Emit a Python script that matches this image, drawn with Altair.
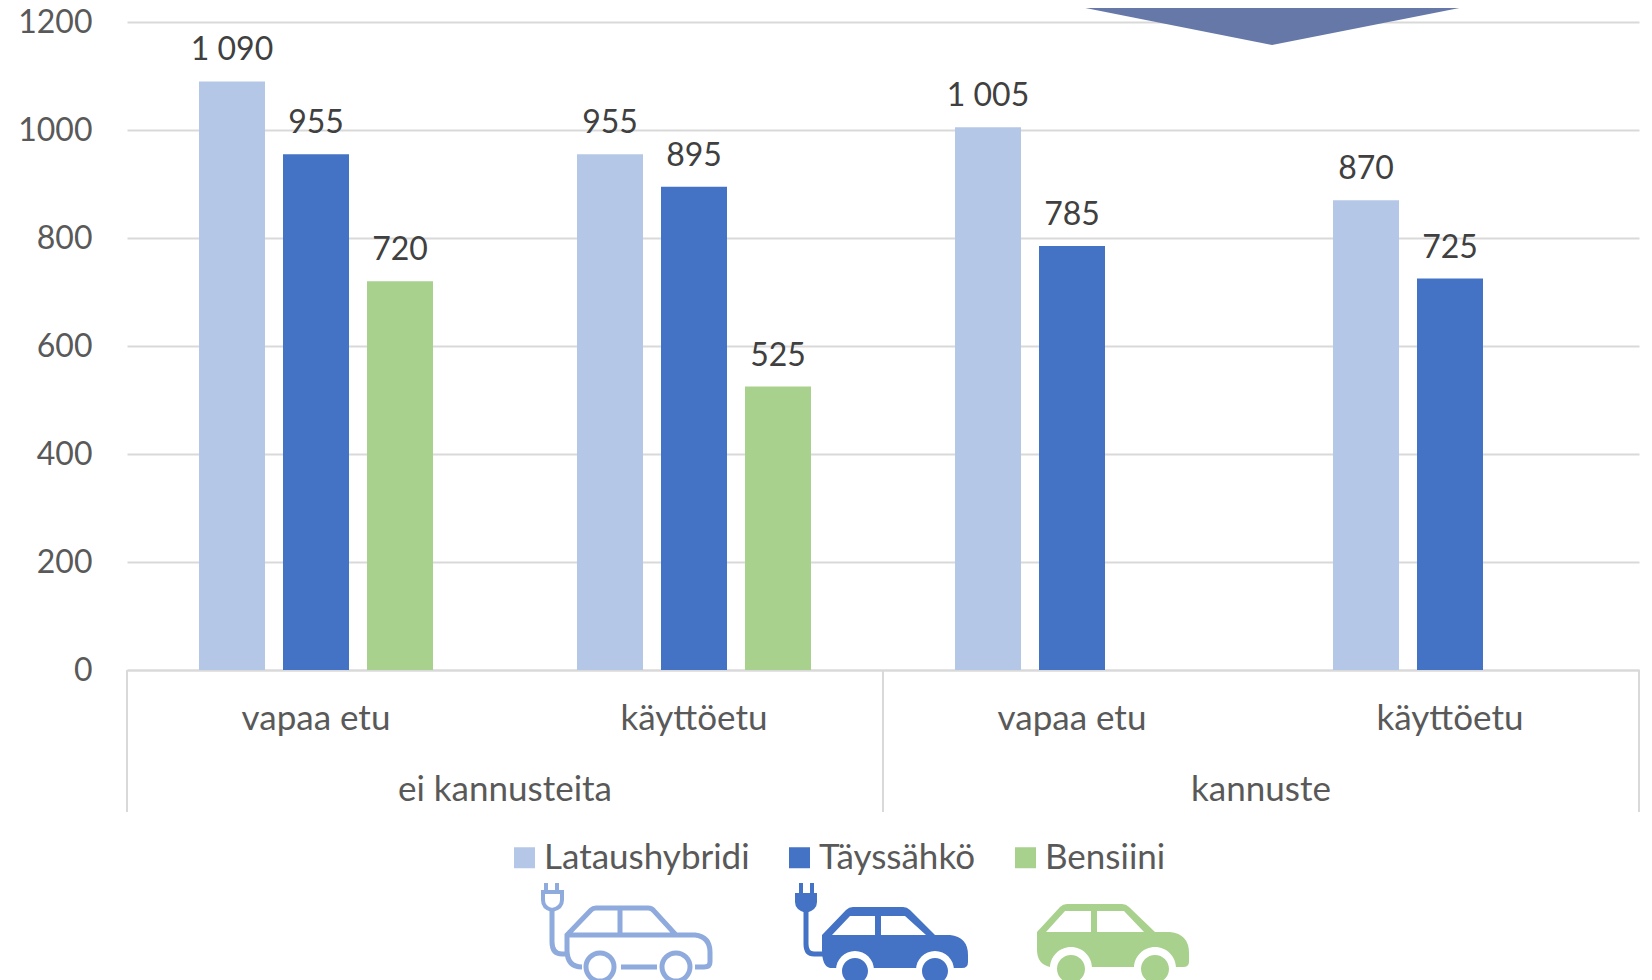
import altair as alt
import pandas as pd

FONT = "Lato"
SIZE = 32
WORD = 35
GRID = "#D9D9D9"
series_names = ["Lataushybridi", "Täyssähkö", "Bensiini"]
colors = ["#B4C7E7", "#4472C4", "#A9D18E"]
positions = ["ei kannusteita|vapaa etu", "ei kannusteita|käyttöetu", "kannuste|vapaa etu", "kannuste|käyttöetu"]
lataushybridi = [1090, 955, 1005, 870]
tayssahko = [955, 895, 785, 725]
bensiini = [720, 525, None, None]
group_names = ["ei kannusteita", "kannuste"]
group_centres = [1, 3]
separators = [0, 2, 4]

rows = []
for name, vals in zip(series_names, [lataushybridi, tayssahko, bensiini]):
    for p, v in zip(positions, vals):
        if v is not None:
            rows.append({"pos": p, "series": name, "value": v, "label": f"{v:,}".replace(",", " ")})
df = pd.DataFrame(rows)

x_enc = alt.X("pos:N", sort=positions, scale=alt.Scale(domain=positions, paddingInner=0, paddingOuter=0),
              title=None,
              axis=alt.Axis(labelExpr="split(datum.label,'|')[1]", labelAngle=0, ticks=False, grid=False,
                            domain=True, domainColor=GRID, domainWidth=2, labelFont=FONT, labelFontSize=WORD,
                            labelColor="#595959", labelPadding=48, labelBaseline="middle", labelLimit=400))
x_plain = alt.X("pos:N", sort=positions, scale=alt.Scale(domain=positions, paddingInner=0, paddingOuter=0),
                title=None, axis=None)
off = alt.XOffset("series:N", sort=series_names,
                  scale=alt.Scale(domain=series_names, paddingInner=0.2143, paddingOuter=0.857))
y_enc = alt.Y("value:Q", scale=alt.Scale(domain=[0, 1200], nice=False), title=None,
              axis=alt.Axis(values=[0, 200, 400, 600, 800, 1000, 1200], format="d", ticks=False, domain=False,
                            grid=True, gridColor=GRID, gridWidth=2, labelFont=FONT, labelFontSize=SIZE,
                            labelColor="#595959", labelPadding=35))

bars = alt.Chart(df).mark_bar(size=66).encode(
    x=x_enc, xOffset=off, y=y_enc,
    color=alt.Color("series:N", sort=series_names, scale=alt.Scale(domain=series_names, range=colors), title=None,
                    legend=alt.Legend(orient="none", legendX=380, legendY=818, direction="horizontal", columns=3,
                                      symbolType="square", symbolSize=441, symbolStrokeWidth=0, labelFont=FONT,
                                      labelFontSize=WORD, labelColor="#595959", labelOffset=2, columnPadding=32,
                                      padding=0, labelLimit=300)))
labels = alt.Chart(df).mark_text(font=FONT, fontSize=SIZE, color="#404040", baseline="bottom", dy=-14).encode(
    x=x_plain, xOffset=off, y=y_enc, text="label:N")

sep_df = pd.DataFrame({"g": separators})
rules = alt.Chart(sep_df).mark_rule(color=GRID, strokeWidth=2).encode(
    x=alt.X("g:Q", scale=alt.Scale(domain=[0, 4], nice=False, zero=False), axis=None),
    y=alt.value(648), y2=alt.value(790))
grp_df = pd.DataFrame({"g": group_centres, "name": group_names})
group_text = alt.Chart(grp_df).mark_text(font=FONT, fontSize=WORD, color="#595959", baseline="middle").encode(
    x=alt.X("g:Q", scale=alt.Scale(domain=[0, 4], nice=False, zero=False), axis=None),
    y=alt.value(768), text="name:N")


def circle(cx, cy, r):
    return f"M{cx - r},{cy} A{r},{r} 0 1 0 {cx + r},{cy} A{r},{r} 0 1 0 {cx - r},{cy} Z "


def shape(path, color, filled=True, width=0):
    """Decorative pictogram drawn in page pixels: a symbol of size 4 has scale 1."""
    kw = dict(fill=color, filled=True) if filled else dict(filled=False, stroke=color, strokeWidth=width)
    return alt.Chart(pd.DataFrame({"a": [0]})).mark_point(shape=path, size=4, opacity=1, **kw).encode(
        x=alt.value(-127), y=alt.value(-22))


C1, C2, C3 = "#8FAADC", "#4472C4", "#A9D18E"
car1 = ("M582,967 Q567,967 567,950 L567,935 L591,910 Q593,908 596,908 L648,908 Q652,908 654,911 L676,935 L695,935 "
        "Q710,937 710,952 L710,962 Q710,967 704,967 L695,967 M621,967 L657,967 M567,935 L676,935 M620,909 L620,935 "
        + circle(600, 967, 14) + circle(676, 967, 14) +
        "M552,908 L552,942 Q552,954 562,954 L567,954")
plug1 = "M543,892 L562,892 L562,900 Q562,908 552,910 Q543,908 543,900 Z M546,883 L546,892 M557,883 L557,892"
car2_body = ("M822,935 L846,910 Q849,907 853,907 L903,907 Q907,907 910,910 L935,935 L950,935 Q968,937 968,955 "
             "L968,962 Q968,968 962,968 L830,968 Q822,966 822,950 Z")
car2_white = ("M832,935 L850,916 L875,916 L875,935 Z M881,916 L905,916 L926,935 L881,935 Z "
              + circle(855, 970, 19) + circle(935, 970, 19))
car2_wheels = circle(855, 971, 13) + circle(935, 971, 13)
plug2_fill = "M795,893 L817,893 L817,902 Q817,910 806,913 Q795,910 795,902 Z M799,883 L803,883 L803,893 L799,893 Z M810,883 L814,883 L814,893 L810,893 Z"
plug2_cord = "M806,910 L806,944 Q806,954 814,954 L823,954"
car3_body = ("M1037,932 L1060,907 Q1063,904 1067,904 L1122,904 Q1126,904 1129,907 L1155,932 L1170,932 "
             "Q1189,934 1189,953 L1189,962 Q1189,967 1183,967 L1050,967 Q1037,964 1037,950 Z")
car3_white = ("M1046,932 L1065,911 L1091,911 L1091,932 Z M1097,911 L1124,911 L1144,932 L1097,932 Z "
              + circle(1071, 968, 21) + circle(1155, 968, 21))
car3_wheels = circle(1071, 969, 14) + circle(1155, 969, 14)
arrow = "M1045,0 L1500,0 L1272,45 Z"

chart = alt.layer(
    rules, bars, labels, group_text,
    shape(arrow, "#6578A8"),
    shape(car1, C1, False, 5), shape(plug1, C1, False, 4),
    shape(car2_body, C2), shape(car2_white, "#FFFFFF"), shape(car2_wheels, C2), shape(plug2_fill, C2),
    shape(plug2_cord, C2, False, 5),
    shape(car3_body, C3), shape(car3_white, "#FFFFFF"), shape(car3_wheels, C3),
).resolve_scale(x="independent").properties(
    width=1512, height=648,
    padding={"left": 119, "top": 14, "right": 4, "bottom": 310},
    autosize=alt.AutoSizeParams(type="none", contains="content"),
    background="white",
).configure_view(stroke=None)

chart.save("out.html", embed_options={"renderer": "svg", "actions": False})
